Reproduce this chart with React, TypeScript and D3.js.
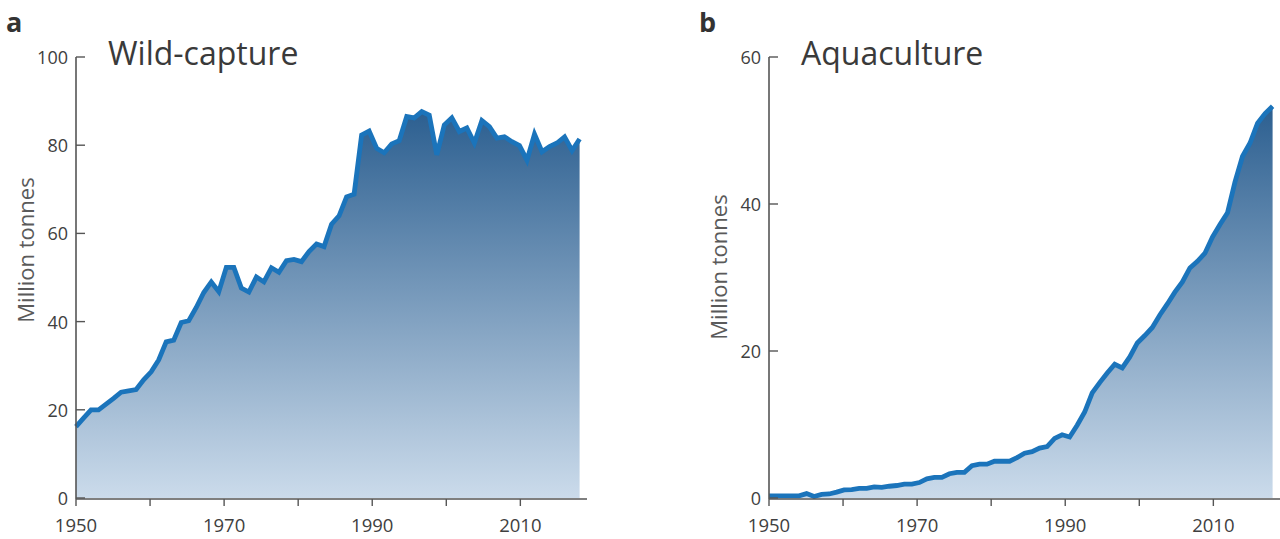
import * as d3 from "d3";

// 68 yearly samples, plotted evenly from 1950 to 2018
const wildCapture = [
  16.2, 18.1, 20, 20, 21.3, 22.6, 24, 24.3, 24.6, 26.8,
  28.6, 31.3, 35.4, 35.8, 39.8, 40.2, 43.2, 46.6, 49, 46.8,
  52.3, 52.3, 47.6, 46.7, 50.1, 49, 52.2, 51.2, 53.8, 54.1,
  53.6, 55.9, 57.6, 57, 62.1, 64, 68.3, 68.9, 82.3, 83.2,
  79.3, 78.3, 80.3, 81, 86.5, 86.2, 87.6, 86.8, 77.8, 84.6,
  86.2, 83.1, 83.9, 80.5, 85.6, 84.2, 81.6, 81.9, 80.8, 79.9,
  76.6, 82.5, 78.5, 79.7, 80.5, 81.9, 78.8, 81.4,
];

const aquaculture = [
  0.3, 0.3, 0.3, 0.3, 0.3, 0.6, 0.2, 0.5, 0.55, 0.8,
  1.1, 1.15, 1.3, 1.3, 1.5, 1.45, 1.6, 1.7, 1.9, 1.9,
  2.1, 2.6, 2.8, 2.8, 3.3, 3.5, 3.5, 4.4, 4.6, 4.6,
  5.0, 5.0, 5.0, 5.5, 6.1, 6.3, 6.8, 7.0, 8.1, 8.6,
  8.3, 9.9, 11.7, 14.3, 15.7, 17.0, 18.2, 17.7, 19.2, 21.1,
  22.1, 23.2, 24.9, 26.4, 28.0, 29.4, 31.3, 32.2, 33.3, 35.5,
  37.2, 38.8, 43.0, 46.5, 48.3, 51.0, 52.3, 53.3,
];

const xTicks = [1950, 1960, 1970, 1980, 1990, 2000, 2010];
const xLabels = [1950, 1970, 1990, 2010];
const yTicksA = [0, 20, 40, 60, 80, 100];
const yTicksB = [0, 20, 40, 60];

const FONT = "'Open Sans', 'Noto Sans', sans-serif";
const AXIS = "#555";
const TEXT = "#404040";

type PanelProps = {
  id: string;
  letter: string;
  title: string;
  values: number[];
  yMax: number;
  yTicks: number[];
  left: number;
  right: number;
  labelX: number;
  labelY: number;
};

const TOP = 57;
const BOTTOM = 498;

const Panel = ({ id, letter, title, values, yMax, yTicks, left, right, labelX, labelY }: PanelProps) => {
  const x = d3.scaleLinear().domain([1950, 2019]).range([left, right]);
  const y = d3.scaleLinear().domain([0, yMax]).range([BOTTOM, TOP]);
  // samples spread from 1950 to 2018
  const xs = d3.scaleLinear().domain([0, values.length - 1]).range([x(1950), x(2018)]);

  const area = d3
    .area<number>()
    .x((_, i) => xs(i))
    .y0(y(0))
    .y1((d) => y(d));
  const line = d3
    .line<number>()
    .x((_, i) => xs(i))
    .y((d) => y(d));

  return (
    <g>
      <defs>
        <linearGradient id={id} x1="0" y1="0" x2="0" y2="1">
          <stop offset="0%" stopColor="#2c5f90" />
          <stop offset="100%" stopColor="#cbdbeb" />
        </linearGradient>
      </defs>
      <path d={area(values) ?? ""} fill={`url(#${id})`} />
      <path d={line(values) ?? ""} fill="none" stroke="#1b74bb" strokeWidth={4.8} />

      {/* y axis */}
      <line x1={left} x2={left} y1={TOP} y2={BOTTOM + 1} stroke={AXIS} strokeWidth={1.6} />
      {yTicks.map((t) => (
        <g key={t}>
          <line x1={left} x2={left + 9} y1={y(t)} y2={y(t)} stroke={AXIS} strokeWidth={1.4} />
          <text
            x={left - 8}
            y={y(t)}
            textAnchor="end"
            dominantBaseline="central"
            fontSize={18}
            fontFamily={FONT}
            fill={TEXT}
          >
            {t}
          </text>
        </g>
      ))}

      {/* x axis */}
      <line x1={left} x2={right} y1={BOTTOM + 1} y2={BOTTOM + 1} stroke={AXIS} strokeWidth={1.6} />
      {xTicks.map((t) => (
        <line key={t} x1={x(t)} x2={x(t)} y1={BOTTOM + 1} y2={BOTTOM + 8} stroke={AXIS} strokeWidth={1.4} />
      ))}
      {xLabels.map((t) => (
        <text key={t} x={x(t)} y={532} textAnchor="middle" fontSize={18.5} fontFamily={FONT} fill={TEXT}>
          {t}
        </text>
      ))}

      <text
        transform={`translate(${labelX},${labelY}) rotate(-90)`}
        textAnchor="middle"
        dominantBaseline="central"
        fontSize={22}
        fontFamily={FONT}
        fill="#5a5a5a"
      >
        Million tonnes
      </text>

      <text x={left + 32} y={65} fontSize={32} fontFamily={FONT} fill="#3a3a3a">
        {title}
      </text>
      <text x={left - 70} y={32} fontSize={27} fontWeight="bold" fontFamily={FONT} fill="#333">
        {letter}
      </text>
    </g>
  );
};

export default function App() {
  return (
    <svg
      width={1280}
      height={539}
      style={{ position: "absolute", left: 0, top: 0, background: "#fff" }}
    >
      <Panel
        id="gradA"
        letter="a"
        title="Wild-capture"
        values={wildCapture}
        yMax={100}
        yTicks={yTicksA}
        left={76}
        right={587}
        labelX={25}
        labelY={250}
      />
      <Panel
        id="gradB"
        letter="b"
        title="Aquaculture"
        values={aquaculture}
        yMax={60}
        yTicks={yTicksB}
        left={769}
        right={1280}
        labelX={718}
        labelY={267}
      />
    </svg>
  );
}
